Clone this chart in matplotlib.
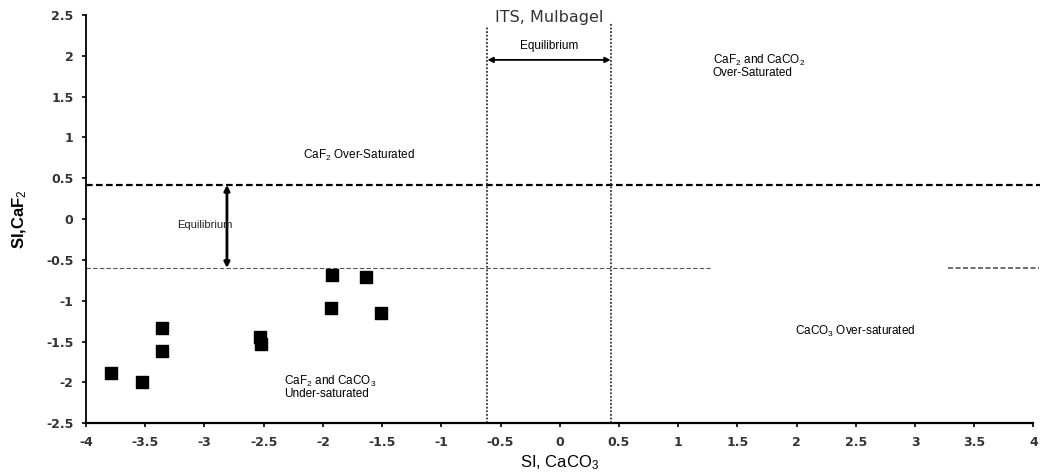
import matplotlib.pyplot as plt
import numpy as np

plt.rcParams['mathtext.fontset'] = 'custom'
plt.rcParams['mathtext.rm'] = 'Liberation Sans'
plt.rcParams['mathtext.it'] = 'Liberation Sans:italic'
plt.rcParams['mathtext.bf'] = 'Liberation Sans:bold'

# saturation index samples (SI CaCO3, SI CaF2)
si_caco3 = [-1.92, -1.64, -1.93, -1.51, -3.36, -3.36, -2.53, -2.52, -3.79, -3.53]
si_caf2 = [-0.69, -0.71, -1.09, -1.15, -1.34, -1.61, -1.45, -1.53, -1.88, -1.99]

# equilibrium band limits
caf2_upper = 0.42
caf2_lower = -0.6
caco3_left = -0.61
caco3_right = 0.43

xticks = [-4, -3.5, -3, -2.5, -2, -1.5, -1, -0.5, 0, 0.5, 1, 1.5, 2, 2.5, 3, 3.5, 4]
yticks = [-2.5, -2, -1.5, -1, -0.5, 0, 0.5, 1, 1.5, 2, 2.5]

fig = plt.figure(figsize=(10.4, 4.76), dpi=100)
ax = fig.add_axes([0.0827, 0.111, 0.911, 0.8575])

ax.set_xlim(-4, 4)
ax.set_ylim(-2.5, 2.5)

# equilibrium lines
ax.plot([-4, 4.1], [caf2_upper, caf2_upper], color='black', linestyle=(0, (3, 1.5)),
        linewidth=1.6, clip_on=False)
ax.plot([-4, 1.27], [caf2_lower, caf2_lower], color='#555555', linestyle=(0, (4, 2)), linewidth=0.8)
ax.plot([3.28, 4.05], [caf2_lower, caf2_lower], color='#555555', linestyle=(0, (3, 1.5)),
        linewidth=1.2, clip_on=False)
ax.plot([caco3_left, caco3_left], [-2.5, 2.35], color='#333333', linestyle=(0, (1, 1)), linewidth=1.3)
ax.plot([caco3_right, caco3_right], [-2.5, 2.4], color='#333333', linestyle=(0, (1, 1)), linewidth=1.3)

# arrows
ax.annotate('', xy=(caco3_left, 1.95), xytext=(caco3_right, 1.95),
            arrowprops=dict(arrowstyle='<|-|>', color='black', lw=1.3, mutation_scale=8,
                            shrinkA=0, shrinkB=0))
ax.annotate('', xy=(-2.81, caf2_upper), xytext=(-2.81, caf2_lower),
            arrowprops=dict(arrowstyle='<|-|>', color='black', lw=2, mutation_scale=8,
                            shrinkA=0, shrinkB=0))

ax.scatter(si_caco3, si_caf2, marker='s', s=75, color='black', zorder=5)

# region labels
fs = 8.5
fam = ['Liberation Sans', 'DejaVu Sans']
ax.text(-0.09, 2.12, 'Equilibrium', ha='center', va='center', fontsize=fs, family=fam)
ax.text(-3.0, -0.07, 'Equilibrium', ha='center', va='center', fontsize=8, family=fam, color='#222222')
ax.text(-2.17, 0.78, 'CaF$_2$ Over-Saturated', ha='left', va='center', fontsize=fs, family=fam)
ax.text(1.29, 1.88, 'CaF$_2$ and CaCO$_2$\nOver-Saturated', ha='left', va='center',
        fontsize=fs, family=fam, linespacing=0.9)
ax.text(-2.33, -2.06, 'CaF$_2$ and CaCO$_3$\nUnder-saturated', ha='left', va='center',
        fontsize=fs, family=fam, linespacing=0.9)
ax.text(1.99, -1.38, 'CaCO$_3$ Over-saturated', ha='left', va='center', fontsize=fs, family=fam)

ax.text(-0.09, 2.47, 'ITS, Mulbagel', ha='center', va='center', fontsize=11.5,
        family='DejaVu Sans', color='#333333')

# axes styling
ax.spines['top'].set_visible(False)
ax.spines['right'].set_visible(False)
ax.spines['left'].set_linewidth(1.3)
ax.spines['bottom'].set_linewidth(1.6)
ax.set_xticks(xticks)
ax.set_yticks(yticks)
ax.set_xticklabels([f'{t:g}' for t in xticks], fontsize=9, fontweight='bold', color='#333333',
                   family='DejaVu Sans')
ax.set_yticklabels([f'{t:g}' for t in yticks], fontsize=9, fontweight='bold', color='#333333',
                   family='DejaVu Sans')
ax.tick_params(direction='out', length=3, width=1.2, pad=6)

ax.set_xlabel('SI, CaCO$_3$', fontsize=12, family=['Liberation Sans Narrow', 'Liberation Sans'],
              labelpad=3)
ax.set_ylabel('SI,CaF$_2$', fontsize=12, fontweight='bold', family=fam, labelpad=12)

fig.savefig('out.png', dpi=100)
